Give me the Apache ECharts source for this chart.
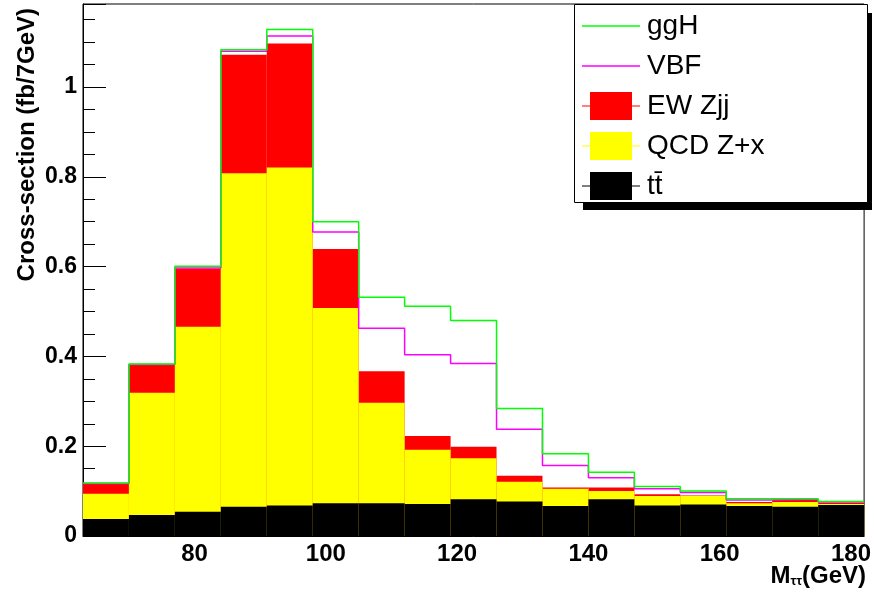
<!DOCTYPE html>
<html>
<head>
<meta charset="utf-8">
<script src="https://cdn.jsdelivr.net/npm/echarts@6/dist/echarts.min.js"></script>
<style>
  html, body { margin: 0; padding: 0; background: #fff; }
  #chart { width: 874px; height: 593px; }
</style>
</head>
<body>
<div id="chart"></div>
<script>
// 7 GeV bins from 63 to 182
const binEdges = [63, 70, 77, 84, 91, 98, 105, 112, 119, 126, 133, 140, 147, 154, 161, 168, 175, 182];

// per-bin contributions (fb / 7 GeV)
const ttbar = [0.038, 0.047, 0.054, 0.065, 0.068, 0.073, 0.073, 0.071, 0.082, 0.077, 0.067, 0.082, 0.068, 0.070, 0.067, 0.065, 0.069];
const qcdZx = [0.056, 0.272, 0.412, 0.743, 0.753, 0.435, 0.224, 0.121, 0.091, 0.044, 0.038, 0.018, 0.021, 0.019, 0.006, 0.011, 0.002];
const ewZjj = [0.022, 0.062, 0.130, 0.264, 0.276, 0.131, 0.070, 0.031, 0.026, 0.013, 0.003, 0.008, 0.004, 0.001, 0.003, 0.005, 0.003];
const vbf   = [0.001, 0.001, 0.001, 0.008, 0.017, 0.038, 0.096, 0.181, 0.185, 0.104, 0.049, 0.022, 0.012, 0.007, 0.004, 0.001, 0.002];
const ggH   = [0.001, 0.001, 0.004, 0.003, 0.014, 0.023, 0.069, 0.108, 0.096, 0.046, 0.026, 0.012, 0.005, 0.003, 0.003, 0.001, 0.001];

const xTickLabels = [80, 100, 120, 140, 160, 180];
const xTicks = [65, 70, 75, 80, 85, 90, 95, 100, 105, 110, 115, 120, 125, 130, 135, 140, 145, 150, 155, 160, 165, 170, 175, 180];

const FONT = '"Liberation Sans", Arial, Helvetica, sans-serif';

const addUp = (a, b) => a.map((v, i) => v + b[i]);
const cumTt = ttbar;
const cumQcd = addUp(cumTt, qcdZx);
const cumEw = addUp(cumQcd, ewZjj);
const cumVbf = addUp(cumEw, vbf);
const cumGgh = addUp(cumVbf, ggH);

// ROOT-style stack: each histogram filled from 0 up to its cumulative height
function filledHist(name, color, tops) {
  return {
    type: 'custom',
    name,
    itemStyle: { color },
    encode: { x: [0, 1], y: [2, 3] },
    clip: true,
    data: tops.map((t, i) => [binEdges[i], binEdges[i + 1], 0, t]),
    renderItem(params, api) {
      const p0 = api.coord([api.value(0), api.value(3)]);
      const p1 = api.coord([api.value(1), api.value(2)]);
      return {
        type: 'rect',
        shape: { x: p0[0], y: p0[1], width: p1[0] - p0[0], height: p1[1] - p0[1] },
        style: { fill: color },
      };
    },
  };
}

function stepLine(name, color, tops) {
  const pts = tops.map((t, i) => [binEdges[i], t]);
  pts.push([binEdges[binEdges.length - 1], tops[tops.length - 1]]);
  return {
    type: 'line',
    name,
    step: 'end',
    symbol: 'none',
    clip: true,
    z: 4,
    color,
    lineStyle: { color, width: 1.5 },
    data: pts,
  };
}

const lineIcon = 'path://M0,0h0.01v0.01h-0.01zM60,28h-0.01v-0.01h0.01zM0,13.25h58v1.5h-58z';
const boxIcon = 'path://M0,0h0.01v0.01h-0.01zM60,28h-0.01v-0.01h0.01zM0,13.5h58v1h-58zM8,0h42v28h-42z';

const chart = echarts.init(document.getElementById('chart'), null, { renderer: 'canvas' });

chart.setOption({
  animation: false,
  grid: {
    left: 83, right: 6, top: 4, bottom: 57,
    show: true, borderColor: '#000', borderWidth: 1, backgroundColor: '#fff',
  },
  xAxis: {
    type: 'value',
    min: binEdges[0],
    max: binEdges[binEdges.length - 1],
    axisLine: { show: true, lineStyle: { color: '#000', width: 1 } },
    axisTick: { show: true, inside: true, length: 3, customValues: xTicks, lineStyle: { color: '#888' } },
    axisLabel: {
      customValues: xTickLabels,
      margin: 6,
      color: '#000',
      fontFamily: FONT,
      fontWeight: 'bold',
      fontSize: 24,
    },
    splitLine: { show: false },
  },
  yAxis: {
    type: 'value',
    min: 0,
    max: 1.185,
    interval: 0.2,
    axisLine: { show: true, lineStyle: { color: '#000', width: 1 } },
    axisTick: { show: true, inside: true, length: 23, lineStyle: { color: '#000' } },
    minorTick: { show: true, splitNumber: 4, length: 12, lineStyle: { color: '#000' } },
    axisLabel: {
      showMaxLabel: false,
      margin: 6,
      color: '#000',
      fontFamily: FONT,
      fontWeight: 'bold',
      fontSize: 23,
    },
    splitLine: { show: false },
  },
  legend: {
    orient: 'vertical',
    left: 582,
    top: 12,
    padding: 0,
    itemWidth: 60,
    itemHeight: 28,
    itemGap: 12,
    selectedMode: false,
    z: 10,
    itemStyle: { borderWidth: 0 },
    textStyle: { fontFamily: FONT, fontSize: 28, color: '#000' },
    data: [
      { name: 'ggH', icon: lineIcon },
      { name: 'VBF', icon: lineIcon },
      { name: 'EW Zjj', icon: boxIcon },
      { name: 'QCD Z+x', icon: boxIcon },
      { name: 'tt\u0304', icon: boxIcon },
    ],
  },
  graphic: [
    { type: 'rect', z: 5, shape: { x: 583, y: 13, width: 289, height: 197 }, style: { fill: '#000' } },
    { type: 'rect', z: 6, shape: { x: 574.5, y: 4.5, width: 293, height: 198 }, style: { fill: '#fff', stroke: '#000', lineWidth: 1 } },
    {
      type: 'text', z: 10, x: 27, y: 8, rotation: Math.PI / 2,
      style: { text: 'Cross-section (fb/7GeV)', font: 'bold 24px ' + FONT, align: 'right', verticalAlign: 'middle', fill: '#000' },
    },
    {
      type: 'text', z: 10, x: 866, y: 576,
      style: {
        text: '{m|M}{s|\u03c4\u03c4}{m|(GeV)}',
        align: 'right',
        verticalAlign: 'middle',
        fill: '#000',
        rich: {
          m: { font: 'bold 24px ' + FONT, fill: '#000' },
          s: { font: 'bold 13px ' + FONT, fill: '#000', verticalAlign: 'bottom', padding: [4, 0, 0, 0] },
        },
      },
    },
  ],
  series: [
    filledHist('EW Zjj', '#ff0000', cumEw),
    filledHist('QCD Z+x', '#ffff00', cumQcd),
    filledHist('tt\u0304', '#000000', cumTt),
    stepLine('VBF', '#ff00ff', cumVbf),
    stepLine('ggH', '#00ff00', cumGgh),
  ],
});
</script>
</body>
</html>
